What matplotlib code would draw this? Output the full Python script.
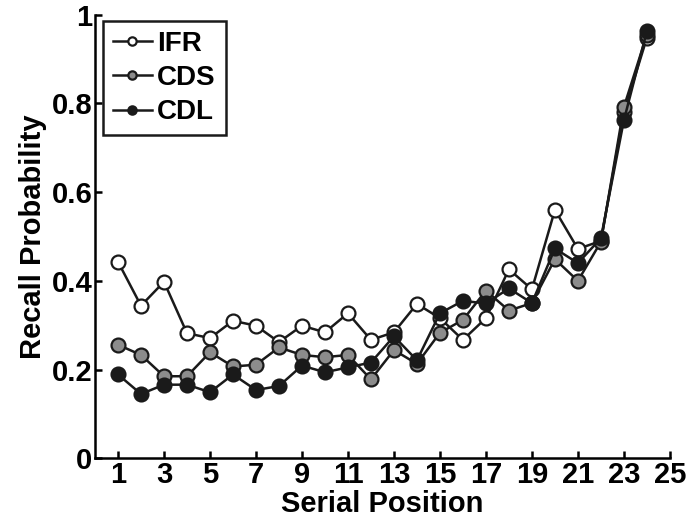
"""Serial position curves: recall probability for IFR, CDS and CDL."""

import matplotlib

matplotlib.use("Agg")
import matplotlib.pyplot as plt

positions = list(range(1, 25))

ifr = [0.443, 0.344, 0.398, 0.282, 0.271, 0.310, 0.299, 0.262,
       0.299, 0.284, 0.327, 0.267, 0.284, 0.348, 0.316, 0.267,
       0.316, 0.426, 0.381, 0.560, 0.472, 0.490, 0.780, 0.948]
cds = [0.256, 0.233, 0.185, 0.185, 0.239, 0.207, 0.211, 0.250,
       0.233, 0.228, 0.233, 0.178, 0.244, 0.213, 0.283, 0.312,
       0.378, 0.333, 0.350, 0.449, 0.400, 0.488, 0.792, 0.955]
cdl = [0.189, 0.145, 0.166, 0.166, 0.149, 0.189, 0.154, 0.163,
       0.209, 0.194, 0.205, 0.216, 0.275, 0.221, 0.327, 0.355,
       0.349, 0.383, 0.350, 0.473, 0.440, 0.496, 0.762, 0.963]

x_ticks = list(range(1, 26, 2))
y_ticks = [0, 0.2, 0.4, 0.6, 0.8, 1]
y_tick_labels = ["0", "0.2", "0.4", "0.6", "0.8", "1"]

plt.rcParams["font.family"] = ["Liberation Sans", "DejaVu Sans"]
plt.rcParams["font.weight"] = "bold"

fig = plt.figure(figsize=(6.86, 5.25), dpi=100)
ax = fig.add_axes([0.1385, 0.127, 0.838, 0.845])

series = [
    ("IFR", ifr, "white"),
    ("CDS", cds, "#8c8c8c"),
    ("CDL", cdl, "#1a1a1a"),
]
for label, values, face in series:
    ax.plot(positions, values, color="#1a1a1a", lw=1.8, marker="o",
            markersize=10, markerfacecolor=face, markeredgecolor="#1a1a1a",
            markeredgewidth=1.6, label=label)

ax.set_xlim(0, 25)
ax.set_ylim(0, 1)
ax.set_xticks(x_ticks)
ax.set_yticks(y_ticks)
ax.set_yticklabels(y_tick_labels)
ax.tick_params(direction="in", length=5, width=1.8, labelsize=21, pad=2)
for side in ("top", "right"):
    ax.spines[side].set_visible(False)
for side in ("left", "bottom"):
    ax.spines[side].set_linewidth(1.8)

ax.set_xlabel("Serial Position", fontsize=21, fontweight="bold", labelpad=1)
ax.set_ylabel("Recall Probability", fontsize=21, fontweight="bold", labelpad=3)

leg = ax.legend(loc="upper left", bbox_to_anchor=(0.014, 0.986),
                borderaxespad=0, fontsize=20, markerscale=0.6,
                handlelength=1.4, handletextpad=0.2, borderpad=0.35,
                labelspacing=0.3, fancybox=False, framealpha=1)
leg.get_frame().set_edgecolor("#1a1a1a")
leg.get_frame().set_linewidth(1.8)

fig.savefig("out.png", dpi=100)
